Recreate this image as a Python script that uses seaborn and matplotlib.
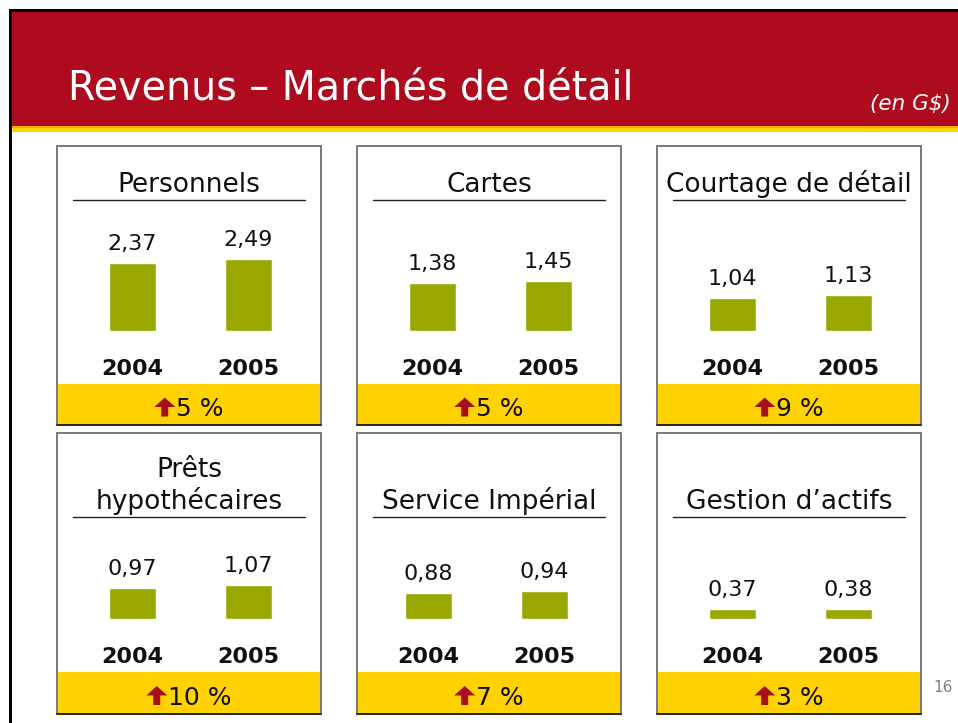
import matplotlib
matplotlib.use("Agg")
import matplotlib.pyplot as plt
from matplotlib.patches import Rectangle, Polygon
import seaborn as sns
import pandas as pd

# ---------------- data ----------------
categories = ["Personnels", "Cartes", "Courtage de détail",
              "Prêts\nhypothécaires", "Service Impérial", "Gestion d\u2019actifs"]
years = ["2004", "2005"]
values_2004 = [2.37, 1.38, 1.04, 0.97, 0.88, 0.37]
values_2005 = [2.49, 1.45, 1.13, 1.07, 0.94, 0.38]
growth_pct = [5, 5, 9, 10, 7, 3]
title = "Revenus \u2013 Marchés de détail"
unit_note = "(en G$)"
page_number = "16"

# ---------------- style ----------------
RED = "#AE0C1E"
YELLOW = "#FFD200"
ORANGE = "#F2A900"
OLIVE = "#99A800"
ARROW = "#A50F1E"
BORDER = "#707070"

sns.set_theme(style="white")
plt.rcParams["font.family"] = ["DejaVu Sans"]

W, H = 958, 723
fig = plt.figure(figsize=(W / 100, H / 100), dpi=100)
fig.patch.set_facecolor("white")

bg = fig.add_axes([0, 0, 1, 1], zorder=0)
bg.set_xlim(0, W)
bg.set_ylim(H, 0)
bg.axis("off")

# slide frame + header
bg.add_patch(Rectangle((9, 9), W, 3, color="black", lw=0))
bg.add_patch(Rectangle((9, 9), 3, H, color="black", lw=0))
bg.add_patch(Rectangle((12, 12), W, 114, color=RED, lw=0))
bg.add_patch(Rectangle((12, 126), W, 1.5, color=ORANGE, lw=0))
bg.add_patch(Rectangle((12, 127.5), W, 4, color=YELLOW, lw=0))
bg.text(68, 88, title, fontsize=28.5, color="white", ha="left", va="center")
bg.text(951, 104, unit_note, fontsize=15.5, color="white", style="italic",
        ha="right", va="center")
bg.text(943, 687, page_number, fontsize=11, color="#808080", ha="center", va="center")

# panel layout
col_x = [57, 357, 657]
rows = [  # (top, yellow_top, bottom, baseline, title_center)
    (146, 384, 425, 331, 182),
    (433, 672, 714, 619, 499),
]
PW = 264
px_per_unit = [28.8, 34.8, 32.2, 31.5, 29.7, 27.0]
x_shift = [0, 0, 0, 0, -4, 0]
bar_step = 116.0
first_center = 75.5
bar_w = 47.0

renderer = fig.canvas.get_renderer()

for i, cat in enumerate(categories):
    r, c = divmod(i, 3)
    top, ytop, bot, base, tcy = rows[r]
    x0 = col_x[c]

    # panel box and yellow band
    bg.add_patch(Rectangle((x0, ytop), PW, bot - ytop, color=YELLOW, lw=0, zorder=1))
    bg.add_patch(Rectangle((x0, top), PW, bot - top, fill=False, ec=BORDER, lw=1.3, zorder=2))
    bg.plot([x0, x0 + PW], [bot, bot], color="#202020", lw=1.3, zorder=3)

    # title + underline
    lines = cat.split("\n")
    for k, line in enumerate(reversed(lines)):
        bg.text(x0 + PW / 2, tcy + 9.6 - 32 * k, line, fontsize=19,
                ha="center", va="baseline", color="#111111", zorder=3)
    uy = tcy + 17.5
    bg.plot([x0 + 16, x0 + 248], [uy, uy], color="#222222", lw=1.0, zorder=3)

    # percentage text + arrow
    pcy = (ytop + bot) / 2 + 2.5
    t = bg.text(0, pcy, f"{growth_pct[i]} %", fontsize=18, ha="left",
                va="center_baseline", color="#111111", zorder=4)
    tw = t.get_window_extent(renderer=renderer).width
    aw, gap = 21, 1
    gx = x0 + PW / 2 - (aw + gap + tw) / 2
    t.set_x(gx + aw + gap)
    ay0 = pcy - 9.5
    arrow = Polygon([
        (gx + aw / 2, ay0), (gx + aw, ay0 + 9.5), (gx + aw / 2 + 3.5, ay0 + 9.5),
        (gx + aw / 2 + 3.5, ay0 + 19), (gx + aw / 2 - 3.5, ay0 + 19),
        (gx + aw / 2 - 3.5, ay0 + 9.5), (gx, ay0 + 9.5)],
        closed=True, color=ARROW, lw=0, zorder=4)
    bg.add_patch(arrow)

    # bar axes
    ax_top = tcy + 28
    ah = base - ax_top
    ax = fig.add_axes([x0 / W, (H - base) / H, PW / W, ah / H], zorder=5)
    ax.patch.set_alpha(0)
    df = pd.DataFrame({"year": years, "value": [values_2004[i], values_2005[i]]})
    sns.barplot(data=df, x="year", y="value", color=OLIVE, saturation=1,
                width=bar_w / bar_step, errorbar=None, ax=ax)
    left = (first_center + x_shift[i]) / bar_step
    ax.set_xlim(-left, PW / bar_step - left)
    ax.set_ylim(0, ah / px_per_unit[i])
    ax.set_xticks([])
    ax.set_yticks([])
    ax.set_xlabel("")
    ax.set_ylabel("")
    sns.despine(ax=ax, left=True, bottom=True)
    for j, v in enumerate(df["value"]):
        ax.annotate(f"{v:.2f}".replace(".", ","), xy=(j, v), xytext=(0, 13),
                    textcoords="offset pixels", ha="center", va="baseline",
                    fontsize=16, color="#111111", annotation_clip=False)
        ax.annotate(df["year"][j], xy=(j, 0), xytext=(0, -44),
                    textcoords="offset pixels", ha="center", va="baseline",
                    fontsize=16, fontweight="bold", color="#111111",
                    annotation_clip=False)

fig.savefig("out.png", dpi=100)
